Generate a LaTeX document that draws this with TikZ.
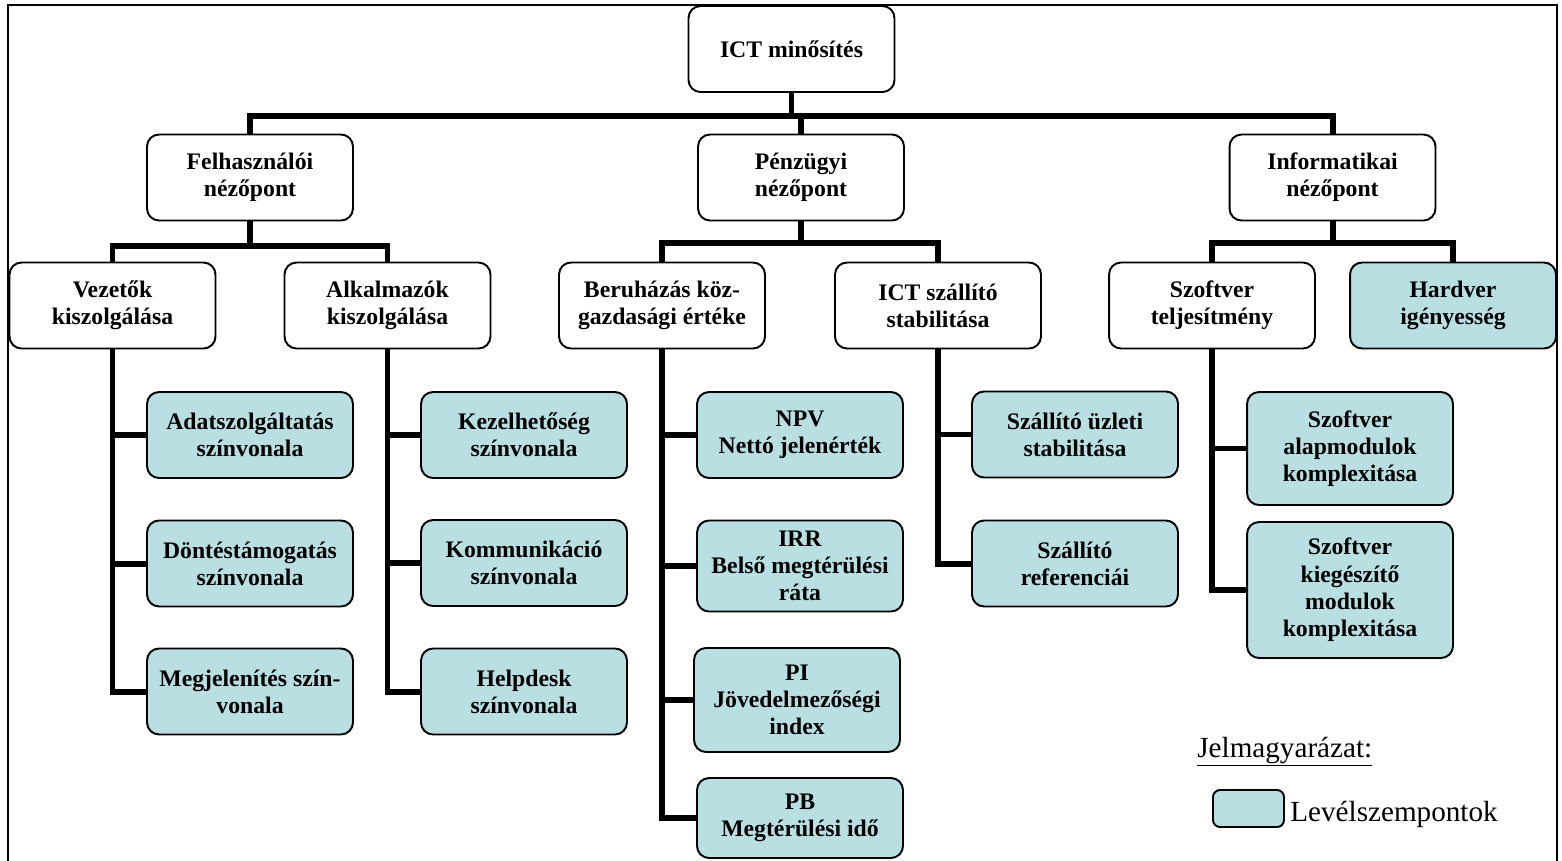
\documentclass[tikz,border=0pt]{standalone}
\usepackage{fontspec}
\setmainfont{Liberation Serif}
\definecolor{leafblue}{RGB}{185,223,227}
\tikzset{
  box/.style={draw, rounded corners=0.24cm, line width=1.1pt, fill=white,
    align=center, inner sep=1pt, minimum width=4.12cm, minimum height=1.72cm,
    font=\fontsize{13.5}{15.5}\selectfont\bfseries},
  leaf/.style={box, fill=leafblue},
  conn/.style={line width=3.4pt},
}
\begin{document}
\begin{tikzpicture}[x=0.02cm, y=-0.02cm]
	\useasboundingbox (0,0) rectangle (1562,860);
	\draw[line width=0.9pt] (8,870) -- (8,5) -- (1557,5) -- (1557,870);

	% top levels
	\node[box] (root) at (791.5,49) {ICT minősítés};
	\node[box] (F) at (250,177.5) {Felhasználói\\nézőpont};
	\node[box] (P) at (801,177.5) {Pénzügyi\\nézőpont};
	\node[box] (I) at (1332.5,177.5) {Informatikai\\nézőpont};

	\node[box] (V) at (112.5,305.5) {Vezetők\\kiszolgálása};
	\node[box] (A) at (387.5,305.5) {Alkalmazók\\kiszolgálása};
	\node[box] (B) at (662,305.5) {Beruházás köz-\\gazdasági értéke};
	\node[box] (S) at (938,305.5) {ICT szállító\\stabilitása};
	\node[box] (SW) at (1212,305.5) {Szoftver\\teljesítmény};
	\node[leaf] (HW) at (1453,305.5) {Hardver\\igényesség};

	% leaves
	\node[leaf] (V1) at (250,435) {Adatszolgáltatás\\színvonala};
	\node[leaf] (V2) at (250,563.5) {Döntéstámogatás\\színvonala};
	\node[leaf] (V3) at (250,691.5) {Megjelenítés szín-\\vonala};

	\node[leaf] (A1) at (524,435) {Kezelhetőség\\színvonala};
	\node[leaf] (A2) at (524,563) {Kommunikáció\\színvonala};
	\node[leaf] (A3) at (524,691.5) {Helpdesk\\színvonala};

	\node[leaf] (B1) at (800,435) {NPV\\Nettó jelenérték};
	\node[leaf, minimum height=1.82cm] (B2) at (800,566) {IRR\\Belső megtérülési\\ráta};
	\node[leaf, minimum height=2.08cm] (B3) at (797,700) {PI\\Jövedelmezőségi\\index};
	\node[leaf, minimum height=1.6cm] (B4) at (800,818) {PB\\Megtérülési idő};

	\node[leaf] (S1) at (1075,434.5) {Szállító üzleti\\stabilitása};
	\node[leaf] (S2) at (1075,563.5) {Szállító\\referenciái};

	\node[leaf, minimum height=2.26cm] (SW1) at (1350,448.5) {Szoftver\\alapmodulok\\komplexitása};
	\node[leaf, minimum height=2.72cm] (SW2) at (1350,590) {Szoftver\\kiegészítő\\modulok\\komplexitása};

	% connectors
	\foreach \c in {F,P,I}
		\draw[conn] (root.south) -- ++(0,23) -| (\c.north);
	\foreach \c in {V,A}
		\draw[conn] (F.south) -- ++(0,25) -| (\c.north);
	\foreach \c in {B,S}
		\draw[conn] (P.south) -- ++(0,22) -| (\c.north);
	\foreach \c in {SW,HW}
		\draw[conn] (I.south) -- ++(0,22) -| (\c.north);

	\foreach \c in {V1,V2,V3}
		\draw[conn] (V.south) |- (\c.west);
	\foreach \c in {A1,A2,A3}
		\draw[conn] (A.south) |- (\c.west);
	\foreach \c in {B1,B2,B3,B4}
		\draw[conn] (B.south) |- (\c.west);
	\foreach \c in {S1,S2}
		\draw[conn] (S.south) |- (\c.west);
	\foreach \c in {SW1,SW2}
		\draw[conn] (SW.south) |- (\c.west);

	% legend
	\node[anchor=base west, inner sep=0pt, font=\fontsize{16.6}{20}\selectfont] (key) at (1197,757) {\underline{Jelmagyarázat:}};
	\node[leaf, minimum width=1.42cm, minimum height=0.74cm, rounded corners=0.14cm] (keybox) at (1248.5,808.5) {};
	\node[anchor=base west, inner sep=0pt, font=\fontsize{16.6}{20}\selectfont] (keytext) at (1290,821) {Levélszempontok};
\end{tikzpicture}
\end{document}
